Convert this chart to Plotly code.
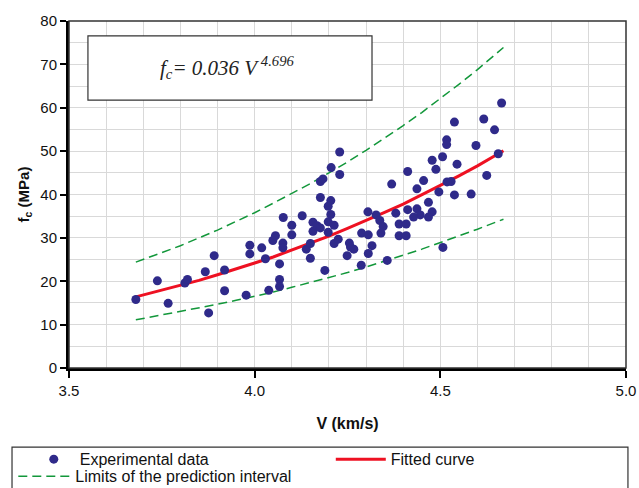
import plotly.graph_objects as go

# Experimental data (V in km/s, fc in MPa)
v_exp = [3.680, 3.738, 3.767, 3.812, 3.819, 3.867, 3.876, 3.891, 3.919, 3.919,
         3.977, 3.987, 3.987, 4.019, 4.029, 4.038, 4.049, 4.056, 4.067, 4.067,
         4.067, 4.076, 4.076, 4.077, 4.100, 4.100, 4.128, 4.139, 4.150, 4.150,
         4.157, 4.157, 4.168, 4.177, 4.177, 4.177, 4.184, 4.189, 4.229, 4.206,
         4.229, 4.205, 4.198, 4.205, 4.198, 4.214, 4.198, 4.214, 4.225, 4.255,
         4.267, 4.258, 4.249, 4.287, 4.305, 4.327, 4.288, 4.306, 4.316, 4.306,
         4.337, 4.346, 4.340, 4.357, 4.369, 4.380, 4.389, 4.408, 4.389, 4.408,
         4.412, 4.412, 4.538, 4.617, 4.517, 4.517, 4.596, 4.478, 4.506, 4.545,
         4.488, 4.455, 4.625, 4.437, 4.518, 4.529, 4.496, 4.538, 4.583, 4.468,
         4.437, 4.446, 4.428, 4.478, 4.468, 4.507, 4.665, 4.646, 4.656]
fc_exp = [15.8, 20.1, 14.9, 19.6, 20.4, 22.2, 12.7, 25.9, 22.6, 17.8,
          16.8, 28.3, 26.3, 27.7, 25.2, 17.9, 29.4, 30.5, 24.0, 20.4,
          18.8, 28.8, 27.7, 34.7, 32.9, 30.7, 35.1, 27.4, 28.7, 25.3,
          33.6, 31.5, 32.8, 32.3, 39.3, 43.0, 43.6, 22.5, 49.8, 46.2,
          44.6, 38.6, 37.3, 35.4, 33.7, 32.9, 31.3, 28.7, 29.7, 28.8,
          27.4, 27.9, 25.9, 23.7, 36.0, 35.3, 31.1, 30.7, 28.2, 26.4,
          34.0, 32.6, 31.1, 24.8, 42.4, 35.7, 33.2, 33.2, 30.5, 30.5,
          45.3, 36.5, 56.7, 57.4, 52.6, 51.5, 51.3, 47.9, 48.7, 47.0,
          45.8, 43.2, 44.4, 41.3, 42.9, 43.0, 40.6, 39.9, 40.1, 38.2,
          36.7, 35.3, 34.8, 36.0, 34.8, 27.8, 61.1, 54.9, 49.4]

# Fitted curve and prediction-interval limits
v_fit = [3.68, 3.75, 3.80, 3.85, 3.90, 3.95, 4.00, 4.05, 4.10, 4.15,
         4.20, 4.25, 4.30, 4.35, 4.40, 4.45, 4.50, 4.55, 4.60, 4.67]
fc_fit = [16.4, 17.9, 19.0, 20.2, 21.5, 22.8, 24.2, 25.6, 27.2, 28.8,
          30.4, 32.2, 34.0, 35.9, 37.8, 39.9, 42.1, 44.3, 46.6, 50.1]
fc_upper = [24.4, 26.6, 28.2, 30.0, 31.8, 33.8, 35.8, 38.0, 40.2, 42.5,
            45.0, 47.5, 50.2, 53.0, 55.9, 58.9, 62.1, 65.4, 68.8, 73.9]
fc_lower = [11.1, 12.2, 13.0, 13.8, 14.7, 15.6, 16.5, 17.5, 18.6, 19.7,
            20.8, 22.0, 23.3, 24.6, 26.0, 27.4, 28.9, 30.4, 32.0, 34.3]

x_ticks = [3.5, 4.0, 4.5, 5.0]
x_tick_text = ["3.5", "4.0", "4.5", "5.0"]
y_ticks = [0, 10, 20, 30, 40, 50, 60, 70, 80]

GREEN = "#12973A"
RED = "#EE1122"
NAVY = "#2F2A8A"

fig = go.Figure()
fig.add_trace(go.Scatter(x=v_fit, y=fc_upper, mode="lines", name="Limits of the prediction interval",
                         line=dict(color=GREEN, width=1.5, dash="9px,5px"), legend="legend3"))
fig.add_trace(go.Scatter(x=v_fit, y=fc_lower, mode="lines", showlegend=False,
                         line=dict(color=GREEN, width=1.5, dash="9px,5px")))
fig.add_trace(go.Scatter(x=v_fit, y=fc_fit, mode="lines", name="Fitted curve",
                         line=dict(color=RED, width=3), legend="legend2"))
fig.add_trace(go.Scatter(x=v_exp, y=fc_exp, mode="markers", name="Experimental data",
                         marker=dict(color=NAVY, size=9, line=dict(width=0)), legend="legend"))

leg_common = dict(orientation="v", yanchor="top", xanchor="left",
                  font=dict(size=16, color="#111111"), bgcolor="rgba(0,0,0,0)",
                  borderwidth=0, tracegroupgap=0)

fig.update_layout(
    width=639, height=488,
    margin=dict(l=69, r=13, t=21, b=120, autoexpand=False),
    paper_bgcolor="white", plot_bgcolor="white",
    font=dict(family="Liberation Sans, Arial, sans-serif", size=14, color="#111111"),
    showlegend=True,
    legend=dict(x=-0.074, y=-0.214, itemwidth=42, **leg_common),
    legend2=dict(x=0.47, y=-0.214, itemwidth=50, **leg_common),
    legend3=dict(x=-0.1, y=-0.263, itemwidth=52, **leg_common),
    shapes=[
        dict(type="rect", xref="paper", yref="paper", x0=0, x1=1, y0=0, y1=1,
             line=dict(color="#333333", width=1.5), layer="above"),
        dict(type="rect", xref="paper", yref="paper", x0=-0.1023, x1=1.0035, y0=-0.228, y1=-0.37,
             line=dict(color="#333333", width=1.2), fillcolor="rgba(0,0,0,0)"),
        dict(type="rect", xref="paper", yref="paper", x0=0.034, x1=0.544, y0=0.772, y1=0.957,
             line=dict(color="#333333", width=1.2), fillcolor="white", layer="above"),
    ],
    annotations=[
        dict(xref="paper", yref="paper", x=0.285, y=0.865, xanchor="center", yanchor="middle",
             text="<i>f<sub>c</sub>= 0.036 V<sup> 4.696</sup></i>", showarrow=False,
             font=dict(family="Liberation Serif, Times New Roman, serif", size=21, color="#222222")),
    ],
)

fig.update_xaxes(range=[3.5, 5.0], tickvals=x_ticks, ticktext=x_tick_text,
                 showgrid=True, gridcolor="#D9D9D9", gridwidth=1,
                 minor=dict(dtick=0.1, showgrid=True, gridcolor="#D9D9D9", gridwidth=1),
                 showline=True, linecolor="black", linewidth=3,
                 ticks="outside", ticklen=7, tickwidth=2, tickcolor="black",
                 zeroline=False, tickfont=dict(size=15),
                 title=dict(text="<b>V (km/s)</b>", font=dict(size=16), standoff=20))
fig.update_yaxes(range=[0, 80], tickvals=y_ticks,
                 showgrid=True, gridcolor="#D9D9D9", gridwidth=1,
                 minor=dict(dtick=5, showgrid=True, gridcolor="#D9D9D9", gridwidth=1),
                 showline=True, linecolor="black", linewidth=3,
                 ticks="outside", ticklen=6, tickwidth=2, tickcolor="black",
                 zeroline=False, tickfont=dict(size=15),
                 title=dict(text="<b>f<sub>c</sub> (MPa)</b>", font=dict(size=15), standoff=8))

fig.write_html("out.html")
